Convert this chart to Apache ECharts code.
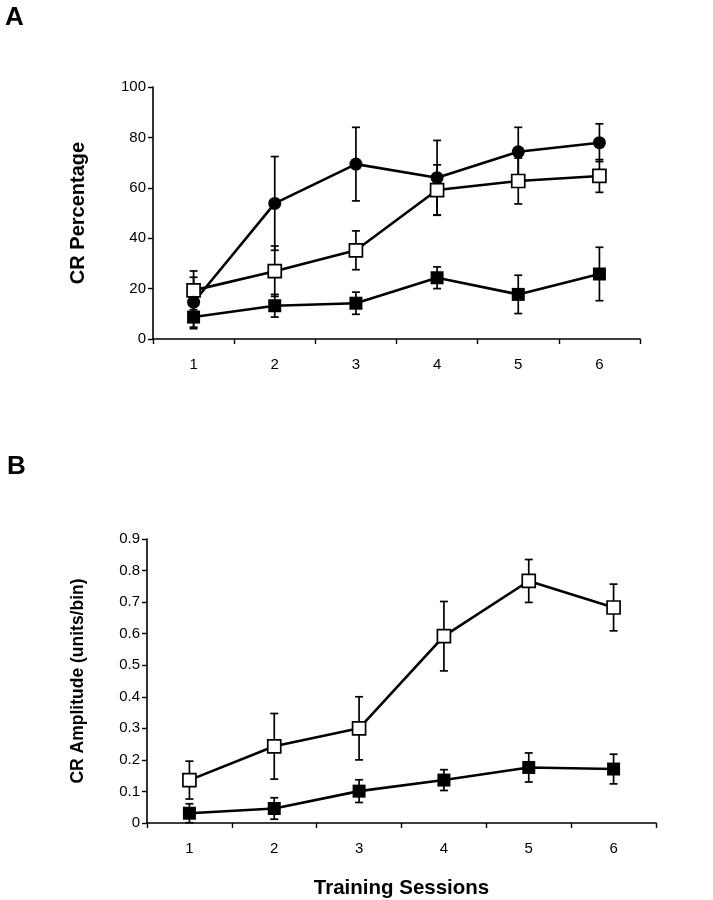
<!DOCTYPE html>
<html>
<head>
<meta charset="utf-8">
<script src="https://cdn.jsdelivr.net/npm/echarts@6/dist/echarts.min.js"></script>
<style>
html,body{margin:0;padding:0;background:#fff;}
#c{width:713px;height:900px;}
</style>
</head>
<body>
<div id="c"></div>
<script>
// ---- data ----
var sessions = ['1', '2', '3', '4', '5', '6'];
var yTicksA = [0, 20, 40, 60, 80, 100];
var yTicksB = [0, 0.1, 0.2, 0.3, 0.4, 0.5, 0.6, 0.7, 0.8, 0.9];

// Panel A: CR Percentage
var aCircle = [14.6, 53.8, 69.4, 64.0, 74.3, 77.9];
var aCircleErr = [9.9, 18.6, 14.6, 14.8, 9.7, 7.5];
var aOpen = [19.3, 26.9, 35.2, 59.1, 62.7, 64.7];
var aOpenErr = [7.7, 10.0, 7.7, 10.0, 9.1, 6.5];
var aFilled = [8.7, 13.2, 14.2, 24.3, 17.7, 25.8];
var aFilledErr = [4.6, 4.5, 4.4, 4.3, 7.6, 10.6];

// Panel B: CR Amplitude
var bOpen = [0.136, 0.243, 0.300, 0.592, 0.767, 0.683];
var bOpenErr = [0.060, 0.104, 0.100, 0.110, 0.068, 0.074];
var bFilled = [0.031, 0.046, 0.101, 0.136, 0.176, 0.171];
var bFilledErr = [0.030, 0.034, 0.036, 0.033, 0.046, 0.047];

// ---- chart ----
var chart = echarts.init(document.getElementById('c'), null, {renderer: 'canvas'});
var FONT = 'Liberation Sans, Arial, sans-serif';

function errData(vals, errs) {
  return vals.map(function (v, i) { return [i, v - errs[i], v + errs[i]]; });
}
function errSeries(gi, vals, errs) {
  return {
    type: 'custom',
    xAxisIndex: gi, yAxisIndex: gi,
    z: 1,
    silent: true,
    data: errData(vals, errs),
    encode: {x: 0, y: [1, 2]},
    renderItem: function (params, api) {
      var lo = api.coord([api.value(0), api.value(1)]);
      var hi = api.coord([api.value(0), api.value(2)]);
      var hw = 4;
      var st = {stroke: '#000', lineWidth: 1.7};
      return {
        type: 'group',
        children: [
          {type: 'line', shape: {x1: lo[0], y1: lo[1], x2: hi[0], y2: hi[1]}, style: st},
          {type: 'line', shape: {x1: lo[0] - hw, y1: lo[1], x2: lo[0] + hw, y2: lo[1]}, style: st},
          {type: 'line', shape: {x1: hi[0] - hw, y1: hi[1], x2: hi[0] + hw, y2: hi[1]}, style: st}
        ]
      };
    }
  };
}
function lineSeries(gi, vals, symbol, fill, size) {
  return {
    type: 'line',
    xAxisIndex: gi, yAxisIndex: gi,
    z: 3,
    data: vals,
    symbol: symbol,
    symbolSize: size,
    showAllSymbol: true,
    lineStyle: {color: '#000', width: 2.6},
    itemStyle: {color: fill, borderColor: '#000', borderWidth: fill === '#fff' ? 1.7 : 0},
    emphasis: {disabled: true},
    animation: false
  };
}
function xAxis(gi) {
  return {
    type: 'category', gridIndex: gi, data: sessions,
    boundaryGap: true,
    axisLine: {lineStyle: {color: '#000', width: 1.6}},
    axisTick: {show: true, inside: false, length: 5, alignWithLabel: false, lineStyle: {color: '#000', width: 1.4}},
    axisLabel: {color: '#000', fontFamily: FONT, fontSize: 15, margin: 18},
    splitLine: {show: false}
  };
}
function yAxis(gi, ticks, name, nameGap, nameSize) {
  return {
    type: 'value', gridIndex: gi,
    min: ticks[0], max: ticks[ticks.length - 1], interval: ticks[1] - ticks[0],
    name: name, nameLocation: 'middle', nameGap: nameGap, nameRotate: 90,
    nameTextStyle: {color: '#000', fontFamily: FONT, fontSize: nameSize, fontWeight: 'bold'},
    axisLine: {show: true, lineStyle: {color: '#000', width: 1.6}},
    axisTick: {show: true, inside: false, length: 5, lineStyle: {color: '#000', width: 1.4}},
    axisLabel: {color: '#000', fontFamily: FONT, fontSize: 15, margin: 7,
      formatter: function (v) { return String(Math.round(v * 10) / 10); }},
    splitLine: {show: false}
  };
}

var option = {
  backgroundColor: '#fff',
  animation: false,
  title: [
    {text: 'A', left: 0, top: 0, textStyle: {fontFamily: FONT, fontSize: 26, fontWeight: 'bold', color: '#000'}},
    {text: 'B', left: 2, top: 449, textStyle: {fontFamily: FONT, fontSize: 26, fontWeight: 'bold', color: '#000'}}
  ],
  grid: [
    {left: 153, top: 87, width: 487, height: 252},
    {left: 147, top: 539, width: 509, height: 286}
  ],
  xAxis: [
    xAxis(0),
    Object.assign(xAxis(1), {
      name: 'Training Sessions', nameLocation: 'middle', nameGap: 55,
      nameTextStyle: {color: '#000', fontFamily: FONT, fontSize: 20.5, fontWeight: 'bold'}
    })
  ],
  yAxis: [
    yAxis(0, yTicksA, 'CR Percentage', 65, 20),
    yAxis(1, yTicksB, 'CR Amplitude (units/bin)', 60, 17.5)
  ],
  series: [
    errSeries(0, aCircle, aCircleErr),
    errSeries(0, aOpen, aOpenErr),
    errSeries(0, aFilled, aFilledErr),
    lineSeries(0, aFilled, 'rect', '#000', 13),
    lineSeries(0, aOpen, 'rect', '#fff', 13),
    lineSeries(0, aCircle, 'circle', '#000', 13),
    errSeries(1, bOpen, bOpenErr),
    errSeries(1, bFilled, bFilledErr),
    lineSeries(1, bFilled, 'rect', '#000', 13),
    lineSeries(1, bOpen, 'rect', '#fff', 13)
  ]
};
chart.setOption(option);
</script>
</body>
</html>
